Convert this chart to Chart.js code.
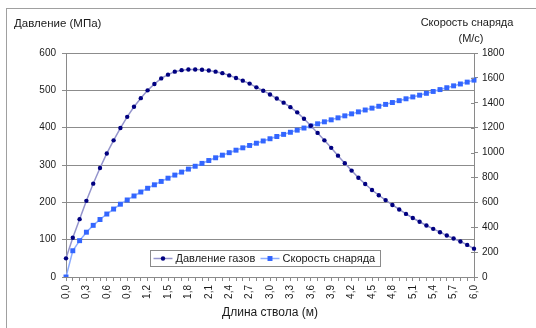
<!DOCTYPE html>
<html>
<head>
<meta charset="utf-8">
<script src="https://cdn.jsdelivr.net/npm/chart.js@4/dist/chart.umd.min.js"></script>
<style>
  html, body { margin: 0; padding: 0; background: #fff; }
  #wrap { width: 536px; height: 328px; }
</style>
</head>
<body>
<div id="wrap"><canvas id="chart" width="536" height="328"></canvas></div>
<script>
// Barrel length, m (step 0,1)
const barrelLength = [
  '0,0','0,1','0,2','0,3','0,4','0,5','0,6','0,7','0,8','0,9',
  '1,0','1,1','1,2','1,3','1,4','1,5','1,6','1,7','1,8','1,9',
  '2,0','2,1','2,2','2,3','2,4','2,5','2,6','2,7','2,8','2,9',
  '3,0','3,1','3,2','3,3','3,4','3,5','3,6','3,7','3,8','3,9',
  '4,0','4,1','4,2','4,3','4,4','4,5','4,6','4,7','4,8','4,9',
  '5,0','5,1','5,2','5,3','5,4','5,5','5,6','5,7','5,8','5,9',
  '6,0'
];

// Gas pressure, MPa
const gasPressure = [
   50, 105, 155, 204, 250, 292, 331, 366, 399, 429,
  456, 479, 500, 517, 532, 542, 550, 554, 556, 556,
  555, 553, 550, 546, 540, 533, 526, 518, 508, 499,
  489, 478, 467, 455, 441, 424, 405, 386, 366, 346,
  325, 305, 285, 266, 249, 233, 219, 206, 193, 181,
  169, 158, 148, 138, 129, 120, 111, 103,  95,  86,
   76
];

// Projectile velocity, m/s
const projectileSpeed = [
     0,  211,  292,  360,  415,  462,  506,  546,  585,  619,
   651,  683,  713,  741,  768,  794,  819,  843,  867,  890,
   913,  936,  958,  979,  999, 1019, 1038, 1057, 1075, 1093,
  1111, 1129, 1146, 1163, 1180, 1197, 1214, 1231, 1247, 1263,
  1279, 1295, 1311, 1327, 1342, 1357, 1372, 1387, 1402, 1417,
  1432, 1447, 1461, 1476, 1491, 1506, 1521, 1536, 1551, 1566,
  1582
];

const seriesNames = ['Давление газов', 'Скорость снаряда'];
const leftTitle = 'Давление (МПа)';
const rightTitle = ['Скорость снаряда', '(М/с)'];
const xTitle = 'Длина ствола (м)';
const labelEvery = 3;

const FONT = '"Liberation Sans", Arial, sans-serif';
const TEXT = '#1a1a1a';
const AXIS = '#8a8a8a';
const GRID = '#8c8c8c';

const decorations = {
  id: 'decorations',
  beforeDraw(chart) {
    const ctx = chart.ctx;
    ctx.save();
    ctx.fillStyle = '#fff';
    ctx.fillRect(0, 0, chart.width, chart.height);
    ctx.strokeStyle = '#a0a0a0';
    ctx.lineWidth = 1;
    ctx.strokeRect(6.5, 8.5, chart.width + 20, chart.height + 20);
    ctx.restore();
  },
  afterDraw(chart) {
    const ctx = chart.ctx;
    const area = chart.chartArea;
    ctx.save();

    // axis titles above the value axes
    ctx.fillStyle = TEXT;
    ctx.font = '11.5px ' + FONT;
    ctx.textBaseline = 'middle';
    ctx.textAlign = 'left';
    ctx.fillText(leftTitle, 14, 24);
    ctx.font = '11px ' + FONT;
    ctx.textAlign = 'center';
    ctx.fillText(rightTitle[0], 467, 23);
    ctx.fillText(rightTitle[1], 471, 39);

    // right axis tick marks reach a little into the plot
    const y2 = chart.scales.y2;
    ctx.strokeStyle = AXIS;
    ctx.lineWidth = 1;
    y2.ticks.forEach((t, i) => {
      const py = Math.round(y2.getPixelForTick(i)) + 0.5;
      ctx.beginPath();
      ctx.moveTo(area.right - 3, py);
      ctx.lineTo(area.right, py);
      ctx.stroke();
    });

    // legend box inside the plot
    const lx = area.left + 84.5, ly = area.bottom - 26.5, lw = 230, lh = 16;
    ctx.fillStyle = '#fff';
    ctx.fillRect(lx, ly, lw, lh);
    ctx.strokeStyle = '#8a8a8a';
    ctx.strokeRect(lx, ly, lw, lh);
    const cy = ly + lh / 2;
    const items = [
      { x0: lx + 3, x1: lx + 22, tx: lx + 25 },
      { x0: lx + 110, x1: lx + 129, tx: lx + 132 }
    ];
    chart.data.datasets.forEach((ds, i) => {
      const it = items[i];
      ctx.strokeStyle = ds.borderColor;
      ctx.lineWidth = ds.borderWidth;
      ctx.beginPath();
      ctx.moveTo(it.x0, cy);
      ctx.lineTo(it.x1, cy);
      ctx.stroke();
      ctx.fillStyle = ds.pointBackgroundColor;
      const mx = (it.x0 + it.x1) / 2;
      if (ds.pointStyle === 'rect') {
        const s = ds.pointRadius * Math.SQRT1_2;
        ctx.fillRect(mx - s, cy - s, 2 * s, 2 * s);
      } else {
        ctx.beginPath();
        ctx.arc(mx, cy, ds.pointRadius, 0, Math.PI * 2);
        ctx.fill();
      }
      ctx.fillStyle = TEXT;
      ctx.font = '11px ' + FONT;
      ctx.textAlign = 'left';
      ctx.textBaseline = 'middle';
      ctx.fillText(ds.label, it.tx, cy + 0.5);
    });
    ctx.restore();
  }
};

new Chart(document.getElementById('chart'), {
  type: 'line',
  data: {
    labels: barrelLength,
    datasets: [
      {
        label: seriesNames[0],
        data: gasPressure,
        yAxisID: 'y',
        borderColor: '#9494cc',
        borderWidth: 1.5,
        pointStyle: 'circle',
        pointRadius: 2.2,
        pointBorderWidth: 0,
        pointBackgroundColor: '#000080',
        pointBorderColor: '#000080',
        tension: 0
      },
      {
        label: seriesNames[1],
        data: projectileSpeed,
        yAxisID: 'y2',
        borderColor: '#8cacff',
        borderWidth: 1.5,
        pointStyle: 'rect',
        pointRadius: 3.5,
        pointBorderWidth: 0,
        pointBackgroundColor: '#3366ff',
        pointBorderColor: '#3366ff',
        tension: 0
      }
    ]
  },
  options: {
    responsive: false,
    animation: false,
    devicePixelRatio: 1,
    layout: { padding: { top: 53, left: 0, right: 0, bottom: 0 } },
    plugins: {
      legend: { display: false },
      tooltip: { enabled: false }
    },
    scales: {
      x: {
        type: 'category',
        offset: false,
        grid: { display: true, drawOnChartArea: false, drawTicks: true, tickLength: 4, color: AXIS },
        border: { color: AXIS },
        ticks: {
          autoSkip: false,
          maxRotation: 90,
          minRotation: 90,
          padding: 4,
          color: TEXT,
          font: { family: FONT, size: 10 },
          callback: (v, i) => (i % labelEvery === 0 ? barrelLength[i] : '')
        },
        title: {
          display: true,
          text: xTitle,
          color: TEXT,
          font: { family: FONT, size: 12 },
          padding: { top: 0, bottom: 8 }
        },
        afterFit: (s) => { s.height = 51; }
      },
      y: {
        position: 'left',
        min: 0,
        max: 600,
        grid: { color: GRID, tickLength: 4, drawTicks: true },
        border: { color: AXIS },
        ticks: {
          stepSize: 100,
          padding: 6,
          color: TEXT,
          font: { family: FONT, size: 10 },
          callback: (v) => String(v)
        },
        afterFit: (s) => { s.width = 66; }
      },
      y2: {
        position: 'right',
        min: 0,
        max: 1800,
        grid: { drawOnChartArea: false, tickLength: 4, color: AXIS },
        border: { color: AXIS },
        ticks: {
          stepSize: 200,
          padding: 4,
          color: TEXT,
          font: { family: FONT, size: 10 },
          callback: (v) => String(v)
        },
        afterFit: (s) => { s.width = 62; }
      }
    }
  },
  plugins: [decorations]
});
</script>
</body>
</html>
